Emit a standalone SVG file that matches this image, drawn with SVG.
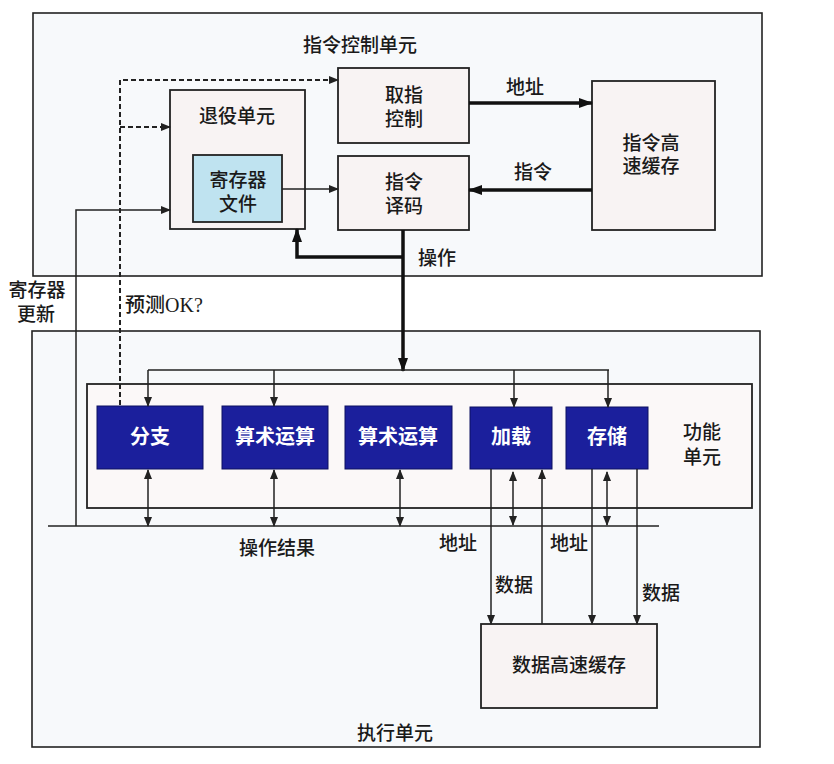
<svg xmlns="http://www.w3.org/2000/svg" width="834" height="764" viewBox="0 0 834 764">
<style>
text{font-family:"Liberation Sans","Noto Sans CJK SC",sans-serif;font-size:19px;font-weight:500;fill:#1a1a1a;text-anchor:middle;dominant-baseline:central}
.area{fill:#f7f9fb;stroke:#222;stroke-width:1.6}
.box{fill:#f8f3f3;stroke:#222;stroke-width:1.8}
.reg{fill:#bfe3f0;stroke:#222;stroke-width:1.8}
.fu{fill:#1b1f9c;stroke:#0d1060;stroke-width:1}
.fut{fill:#fff;font-weight:bold;font-size:20px}
.thin{fill:none;stroke:#222;stroke-width:1.5}
.thick{fill:none;stroke:#111;stroke-width:3.5}
.dash{fill:none;stroke:#222;stroke-width:2;stroke-dasharray:5,3}
.l{text-anchor:start}
.serif{font-family:"Liberation Serif","Noto Sans CJK SC",serif;font-size:20px}
</style>
<defs>
<marker id="a" markerUnits="userSpaceOnUse" markerWidth="10" markerHeight="8" refX="9" refY="4" orient="auto"><path d="M0,0L10,4L0,8z" fill="#222"/></marker>
<marker id="as" markerUnits="userSpaceOnUse" markerWidth="10" markerHeight="8" refX="1" refY="4" orient="auto"><path d="M10,0L0,4L10,8z" fill="#222"/></marker>
<marker id="A" markerUnits="userSpaceOnUse" markerWidth="14" markerHeight="10" refX="13" refY="5" orient="auto"><path d="M0,0L14,5L0,10z" fill="#111"/></marker>
</defs>

<g id="control-unit"><rect class="area" x="33" y="13" width="729" height="263"/><text x="360" y="45">指令控制单元</text></g>
<g id="exec-unit"><rect class="area" x="32" y="331" width="728" height="416"/><text x="395" y="733">执行单元</text></g>
<g id="func-units"><rect class="box" x="87" y="384" width="665" height="124" style="fill:#fbf8f8"/><text x="702" y="432">功能<tspan x="702" dy="25">单元</tspan></text></g>

<g id="fetch"><rect class="box" x="338" y="68" width="131" height="75"/><text x="404" y="95">取指<tspan x="404" dy="24">控制</tspan></text></g>
<g id="decode"><rect class="box" x="338" y="156" width="131" height="74"/><text x="404" y="182">指令<tspan x="404" dy="24">译码</tspan></text></g>
<g id="retire"><rect class="box" x="170" y="90" width="135" height="139"/><text x="237" y="116">退役单元</text></g>
<g id="regfile"><rect class="reg" x="193" y="155" width="89" height="67"/><text x="238" y="180">寄存器<tspan x="238" dy="24">文件</tspan></text></g>
<g id="icache"><rect class="box" x="592" y="81" width="123" height="149"/><text x="651" y="143">指令高<tspan x="651" dy="23">速缓存</tspan></text></g>

<g id="branch"><rect class="fu" x="97" y="406" width="106" height="63"/><text class="fut" x="150" y="437">分支</text></g>
<g id="alu1"><rect class="fu" x="222" y="406" width="106" height="63"/><text class="fut" x="275" y="437">算术运算</text></g>
<g id="alu2"><rect class="fu" x="345" y="406" width="107" height="63"/><text class="fut" x="398" y="437">算术运算</text></g>
<g id="load"><rect class="fu" x="470" y="407" width="82" height="62"/><text class="fut" x="511" y="437">加载</text></g>
<g id="store"><rect class="fu" x="566" y="407" width="82" height="62"/><text class="fut" x="607" y="437">存储</text></g>

<g id="dcache"><rect class="box" x="481" y="624" width="176" height="84"/><text x="569" y="665">数据高速缓存</text></g>

<g id="connectors">
<line class="thick" x1="469" y1="103" x2="592" y2="103" marker-end="url(#A)"/>
<line class="thick" x1="592" y1="190" x2="469" y2="190" marker-end="url(#A)"/>
<line class="thin" x1="282" y1="189" x2="338" y2="189" marker-end="url(#a)"/>
<polyline class="dash" points="120,405 120,80 338,80" marker-end="url(#a)"/>
<line class="dash" x1="120" y1="127" x2="170" y2="127" marker-end="url(#a)"/>
<polyline class="thin" points="76,526 76,210 170,210" marker-end="url(#a)"/>
<polyline class="thick" points="403,257 297,257 297,229" marker-end="url(#A)"/>
<line class="thick" x1="403" y1="230" x2="403" y2="371" marker-end="url(#A)"/>
<line class="thin" x1="148" y1="370" x2="609" y2="370"/>
<line class="thin" x1="148" y1="370" x2="148" y2="406" marker-end="url(#a)"/>
<line class="thin" x1="274" y1="370" x2="274" y2="406" marker-end="url(#a)"/>
<line class="thin" x1="514" y1="370" x2="514" y2="407" marker-end="url(#a)"/>
<line class="thin" x1="608" y1="370" x2="608" y2="407" marker-end="url(#a)"/>
<line class="thin" x1="48" y1="526" x2="659" y2="526"/>
<line class="thin" x1="148" y1="470" x2="148" y2="526" marker-start="url(#as)" marker-end="url(#a)"/>
<line class="thin" x1="274" y1="470" x2="274" y2="526" marker-start="url(#as)" marker-end="url(#a)"/>
<line class="thin" x1="400" y1="470" x2="400" y2="526" marker-start="url(#as)" marker-end="url(#a)"/>
<line class="thin" x1="513" y1="472" x2="513" y2="525" marker-start="url(#as)" marker-end="url(#a)"/>
<line class="thin" x1="607" y1="472" x2="607" y2="525" marker-start="url(#as)" marker-end="url(#a)"/>
<line class="thin" x1="491" y1="469" x2="491" y2="624" marker-end="url(#a)"/>
<line class="thin" x1="542" y1="624" x2="542" y2="470" marker-end="url(#a)"/>
<line class="thin" x1="592" y1="469" x2="592" y2="624" marker-end="url(#a)"/>
<line class="thin" x1="637" y1="469" x2="637" y2="624" marker-end="url(#a)"/>
</g>

<g id="labels">
<text x="525" y="87">地址</text>
<text x="533" y="172">指令</text>
<text x="437" y="258">操作</text>
<text x="37" y="290">寄存器<tspan x="36" dy="24">更新</tspan></text>
<text class="l serif" x="125" y="305">预测OK?</text>
<text x="277" y="548">操作结果</text>
<text x="458" y="543">地址</text>
<text x="569" y="543">地址</text>
<text x="514" y="585">数据</text>
<text x="661" y="593">数据</text>
</g>
</svg>
